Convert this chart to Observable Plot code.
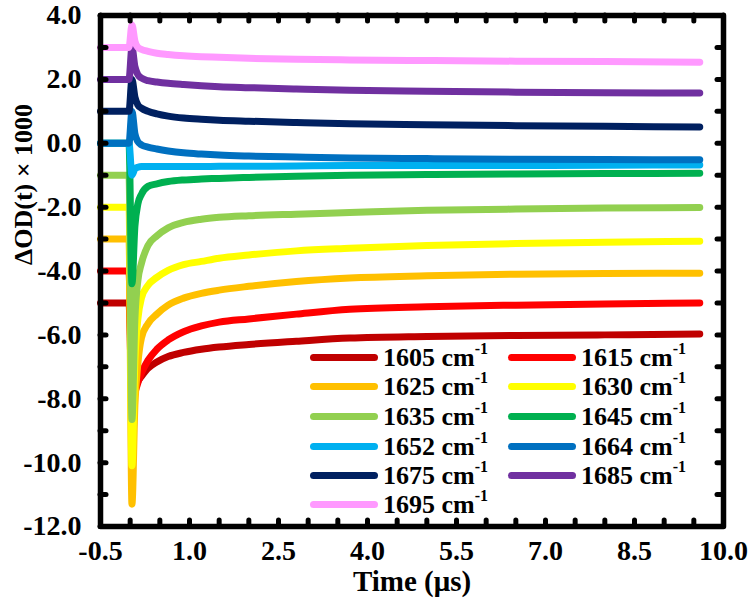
<!DOCTYPE html>
<html>
<head>
<meta charset="utf-8">
<script src="https://cdn.jsdelivr.net/npm/d3@7"></script>
<script src="https://cdn.jsdelivr.net/npm/@observablehq/plot@0.6"></script>
<style>
  html, body { margin: 0; padding: 0; background: #fff; }
  #wrap { position: relative; width: 750px; height: 601px; font-family: "Liberation Serif", "Times New Roman", serif; font-weight: bold; }
  #legend { position: absolute; left: 0; top: 0; width: 750px; height: 601px; pointer-events: none; }
  .item { position: absolute; display: flex; align-items: center; height: 29px; font-size: 26px; color: #000; white-space: nowrap; }
  .sw { width: 68px; height: 7px; border-radius: 4px; margin-right: 5px; }
  .item sup { font-size: 16px; position: relative; top: -2px; }
</style>
</head>
<body>
<div id="wrap">
  <div id="chart"></div>
  <div id="legend"></div>
</div>
<script>
// ---- data ----
const times = [-0.5, -0.02, 0.03, 0.08, 0.13, 0.19, 0.3, 0.45, 0.64, 0.9, 1.2, 1.5, 2.0, 2.8, 3.7, 5.0, 6.5, 8.0, 9.6];

const s1605 = [-5, -5, -7.9, -7.65, -7.45, -7.3, -7.05, -6.85, -6.68, -6.55, -6.45, -6.38, -6.3, -6.2, -6.1, -6.05, -6.02, -6.0, -5.97];
const s1615 = [-4, -4, -8.0, -7.8, -7.5, -7.2, -6.8, -6.45, -6.16, -5.9, -5.72, -5.6, -5.5, -5.35, -5.2, -5.12, -5.07, -5.03, -5.0];
const s1625 = [-3, -3, -11.3, -8.2, -6.9, -6.1, -5.65, -5.35, -5.07, -4.85, -4.7, -4.6, -4.48, -4.33, -4.22, -4.15, -4.1, -4.08, -4.07];
const s1630 = [-2, -2, -10.1, -6.8, -5.5, -4.85, -4.45, -4.2, -3.98, -3.8, -3.7, -3.6, -3.5, -3.37, -3.29, -3.2, -3.14, -3.1, -3.07];
const s1635 = [-1, -1, -8.65, -5.5, -4.3, -3.76, -3.2, -2.9, -2.65, -2.48, -2.38, -2.32, -2.27, -2.22, -2.17, -2.1, -2.06, -2.03, -2.01];
const s1645 = [0, 0, -4.4, -2.6, -1.9, -1.6, -1.35, -1.27, -1.2, -1.15, -1.12, -1.1, -1.07, -1.03, -1.0, -0.98, -0.96, -0.95, -0.94];
const s1652 = [0, 0, -1.0, -0.8, -0.75, -0.73, -0.73, -0.73, -0.73, -0.73, -0.73, -0.72, -0.72, -0.71, -0.7, -0.7, -0.7, -0.69, -0.68];
const s1664 = [0, 0, 1.0, 0.3, 0.05, -0.05, -0.12, -0.18, -0.24, -0.3, -0.34, -0.37, -0.4, -0.43, -0.46, -0.48, -0.5, -0.51, -0.52];
const s1675 = [1, 1, 2.0, 1.45, 1.2, 1.1, 1.0, 0.92, 0.85, 0.79, 0.75, 0.72, 0.69, 0.65, 0.61, 0.58, 0.55, 0.53, 0.51];
const s1685 = [2, 2, 3.0, 2.4, 2.15, 2.04, 1.96, 1.92, 1.88, 1.84, 1.8, 1.77, 1.74, 1.7, 1.66, 1.63, 1.6, 1.58, 1.57];
const s1695 = [3, 3, 3.7, 3.2, 3.0, 2.94, 2.88, 2.82, 2.78, 2.74, 2.71, 2.69, 2.66, 2.63, 2.61, 2.59, 2.57, 2.56, 2.54];

const names  = ["1605", "1615", "1625", "1630", "1635", "1645", "1652", "1664", "1675", "1685", "1695"];
const colors = ["#C00000", "#FF0000", "#FFC000", "#FFFF00", "#92D050", "#00B050", "#00B0F0", "#0070C0", "#002060", "#7030A0", "#FF99FF"];
const seriesValues = [s1605, s1615, s1625, s1630, s1635, s1645, s1652, s1664, s1675, s1685, s1695];

const xLabelTicks = [-0.5, 1.0, 2.5, 4.0, 5.5, 7.0, 8.5, 10.0];
const xMinorTicks = [-0.5, 0, 0.5, 1, 1.5, 2, 2.5, 3, 3.5, 4, 4.5, 5, 5.5, 6, 6.5, 7, 7.5, 8, 8.5, 9, 9.5, 10];
const yLabelTicks = [4, 2, 0, -2, -4, -6, -8, -10, -12];
const yMinorTicks = [4, 3, 2, 1, 0, -1, -2, -3, -4, -5, -6, -7, -8, -9, -10, -11, -12];

// ---- build table ----
const rows = [];
names.forEach((n, k) => {
  times.forEach((t, i) => rows.push({ t, v: seriesValues[k][i], name: n, order: k }));
});

const W = 750, H = 601;
const mL = 100, mR = 27, mT = 15, mB = 75;
const innerW = W - mL - mR, innerH = H - mT - mB;
const tickLen = 6;
const FONT = "'Liberation Serif', 'Times New Roman', serif";
const fmt = d => d.toFixed(1);

const chart = Plot.plot({
  width: W,
  height: H,
  marginLeft: mL, marginRight: mR, marginTop: mT, marginBottom: mB,
  style: { fontFamily: FONT, fontWeight: "bold", background: "#fff" },
  x: { domain: [-0.5, 10], axis: null },
  y: { domain: [-12, 4], axis: null },
  color: { domain: names, range: colors },
  marks: [
    ...names.map((n) => Plot.line(rows.filter(r => r.name === n), {
      x: "t", y: "v", stroke: "name", strokeWidth: 7, curve: "monotone-x",
      strokeLinecap: "round", strokeLinejoin: "round"
    })),
    Plot.frame({ stroke: "#000", strokeWidth: 5.5, strokeLinejoin: "round" }),
    // inward ticks bottom/top
    Plot.tickX(xMinorTicks, { x: d => d, stroke: "#000", strokeWidth: 5, strokeLinecap: "round", insetTop: innerH - tickLen }),
    Plot.tickX(xMinorTicks, { x: d => d, stroke: "#000", strokeWidth: 5, strokeLinecap: "round", insetBottom: innerH - tickLen }),
    // inward ticks left/right
    Plot.tickY(yMinorTicks, { y: d => d, stroke: "#000", strokeWidth: 5, strokeLinecap: "round", insetRight: innerW - tickLen }),
    Plot.tickY(yMinorTicks, { y: d => d, stroke: "#000", strokeWidth: 5, strokeLinecap: "round", insetLeft: innerW - tickLen }),
    // tick labels
    Plot.text(xLabelTicks, { x: d => d, text: fmt, frameAnchor: "bottom", dy: 25, lineAnchor: "middle", fontSize: 28, fontWeight: "bold", fontFamily: FONT, fill: "#000" }),
    Plot.text(yLabelTicks, { y: d => d, text: fmt, frameAnchor: "left", dx: -19, textAnchor: "end", lineAnchor: "middle", fontSize: 28, fontWeight: "bold", fontFamily: FONT, fill: "#000" }),
    Plot.text(["Time (μs)"], { frameAnchor: "bottom", dy: 55, lineAnchor: "middle", fontSize: 29, fontWeight: "bold", fontFamily: FONT, fill: "#000" }),
    Plot.text(["ΔOD(t) × 1000"], { frameAnchor: "left", dx: -77, dy: -6, rotate: -90, fontSize: 26, fontWeight: "bold", fontFamily: FONT, fill: "#000" })
  ]
});
document.getElementById("chart").appendChild(chart);

// ---- legend (HTML overlay) ----
const legend = document.getElementById("legend");
const colX = [310, 508];
const rowY = [357, 386, 416, 446, 475, 504];
names.forEach((n, k) => {
  const col = k % 2, row = Math.floor(k / 2);
  const el = document.createElement("div");
  el.className = "item";
  el.style.left = colX[col] + "px";
  el.style.top = (rowY[row] - 14.5) + "px";
  el.innerHTML = `<span class="sw" style="background:${colors[k]}"></span><span>${n} cm<sup>-1</sup></span>`;
  legend.appendChild(el);
});
</script>
</body>
</html>
